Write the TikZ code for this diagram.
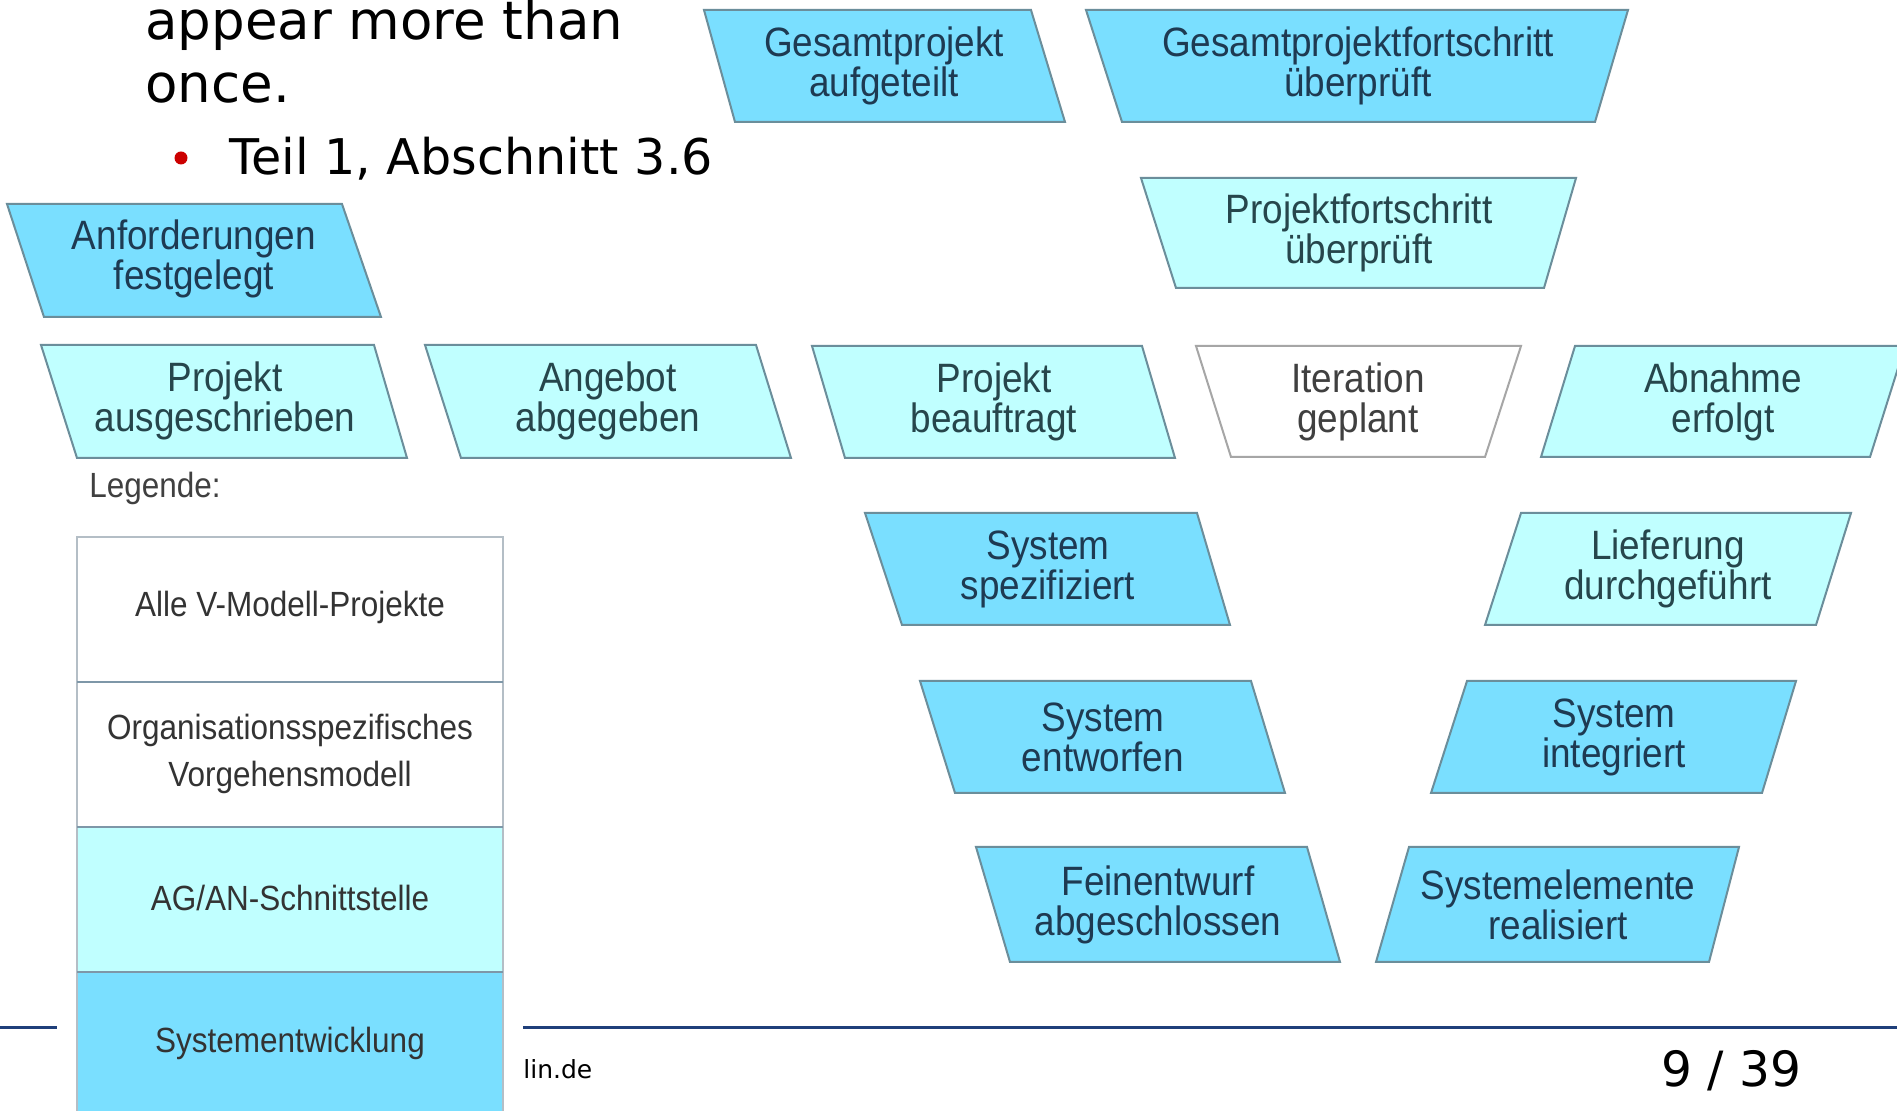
\documentclass[tikz,border=0pt]{standalone}
\usepackage{fontspec}
\setmainfont{Liberation Sans}
\newfontfamily\boxfont[FakeStretch=0.9]{Liberation Sans}
\newfontfamily\slidefont{DejaVu Sans}
\definecolor{cdark}{HTML}{7ADFFF}
\definecolor{clight}{HTML}{C0FFFF}
\definecolor{cborder}{HTML}{6B8E9B}
\definecolor{ctext}{HTML}{1E3A52}
\definecolor{ctextl}{HTML}{26464C}
\definecolor{footblue}{HTML}{1F3F7A}
\definecolor{legborder}{HTML}{B4BEC6}
\definecolor{legdiv}{HTML}{7E97A8}
\begin{document}
\begin{tikzpicture}[x=0.5pt,y=-0.5pt,
  darkbox/.style={fill=cdark,draw=cborder,line width=1pt},
  lightbox/.style={fill=clight,draw=cborder,line width=1pt},
  whitebox/.style={fill=white,draw=gray!70,line width=1pt},
  boxtext/.style={align=center,text=ctext,inner sep=0pt,font=\boxfont\fontsize{20.5}{20}\selectfont},
  lboxtext/.style={boxtext,text=ctextl},
  legtext/.style={align=center,text=black!80,inner sep=0pt,font=\boxfont\fontsize{17.5}{23.5}\selectfont},
  slidetext/.style={anchor=base west,inner sep=0pt,text=black,font=\slidefont\fontsize{26.5}{30}\selectfont}
]
\useasboundingbox (0,0) rectangle (1897,1111);
\clip (0,0) rectangle (1897,1111);
\fill[white] (0,0) rectangle (1897,1111);

% slide text
\node[slidetext] (t1) at (145,40) {appear more than};
\node[slidetext] (t2) at (145,103) {once.};
\fill[red!80!black] (181,158) circle (6.5);
\node[slidetext,font=\slidefont\fontsize{24.6}{28}\selectfont] (t3) at (229,175) {Teil 1, Abschnitt 3.6};

% footer
\draw[footblue,line width=1.5pt] (0,1028) -- (57,1028);
\draw[footblue,line width=1.5pt] (523,1028) -- (1897,1028);
\node[anchor=base west,inner sep=0pt,font=\slidefont\fontsize{12.5}{14}\selectfont] (url) at (523,1079) {lin.de};
\node[anchor=base west,inner sep=0pt,font=\slidefont\fontsize{24.3}{28}\selectfont] (pg) at (1661,1087) {9 / 39};

% top row
\draw[darkbox] (704,10) -- (1031,10) -- (1065,122) -- (735,122) -- cycle;
\node[boxtext] (gpa) at (884,66) {Gesamtprojekt\\aufgeteilt};
\draw[darkbox] (1086,10) -- (1628,10) -- (1595,122) -- (1122,122) -- cycle;
\node[boxtext] (gpf) at (1358,66) {Gesamtprojektfortschritt\\überprüft};
\draw[lightbox] (1141,178) -- (1576,178) -- (1544,288) -- (1176,288) -- cycle;
\node[lboxtext] (pfu) at (1359,233) {Projektfortschritt\\überprüft};
\draw[darkbox] (7,204) -- (342,204) -- (381,317) -- (44,317) -- cycle;
\node[boxtext] (anf) at (194,259) {Anforderungen\\festgelegt};

% main row
\draw[lightbox] (41,345) -- (374,345) -- (407,458) -- (77,458) -- cycle;
\node[lboxtext] (pau) at (225,401) {Projekt\\ausgeschrieben};
\draw[lightbox] (425,345) -- (756,345) -- (791,458) -- (461,458) -- cycle;
\node[lboxtext] (aab) at (608,401) {Angebot\\abgegeben};
\draw[lightbox] (812,346) -- (1142,346) -- (1175,458) -- (845,458) -- cycle;
\node[lboxtext] (pbe) at (994,402) {Projekt\\beauftragt};
\draw[whitebox] (1196,346) -- (1521,346) -- (1485,457) -- (1231,457) -- cycle;
\node[lboxtext,text=black!75] (itg) at (1358,402) {Iteration\\geplant};
\draw[lightbox] (1575,346) -- (1905,346) -- (1870,457) -- (1541,457) -- cycle;
\node[lboxtext] (abn) at (1723,402) {Abnahme\\erfolgt};

% V rows
\draw[darkbox] (865,513) -- (1197,513) -- (1230,625) -- (902,625) -- cycle;
\node[boxtext] (ssp) at (1048,569) {System\\spezifiziert};
\draw[lightbox] (1521,513) -- (1851,513) -- (1816,625) -- (1485,625) -- cycle;
\node[lboxtext] (lie) at (1668,569) {Lieferung\\durchgeführt};
\draw[darkbox] (920,681) -- (1251,681) -- (1285,793) -- (955,793) -- cycle;
\node[boxtext] (sen) at (1103,737) {System\\entworfen};
\draw[darkbox] (1467,681) -- (1796,681) -- (1762,793) -- (1431,793) -- cycle;
\node[boxtext] (sin) at (1614,737) {System\\integriert};
\draw[darkbox] (976,847) -- (1307,847) -- (1340,962) -- (1010,962) -- cycle;
\node[boxtext] (fab) at (1158,905) {Feinentwurf\\abgeschlossen};
\draw[darkbox] (1409,847) -- (1739,847) -- (1709,962) -- (1376,962) -- cycle;
\node[boxtext] (sre) at (1558,905) {Systemelemente\\realisiert};

% legend
\node[anchor=base west,inner sep=0pt,text=black!75,font=\boxfont\fontsize{17.5}{18}\selectfont] (leg) at (89,498) {Legende:};
\fill[white] (77,537) rectangle (503,827);
\fill[clight] (77,827) rectangle (503,972);
\fill[cdark] (77,972) rectangle (503,1120);
\draw[legborder,line width=1pt] (77,1120) -- (77,537) -- (503,537) -- (503,1120);
\draw[legdiv,line width=1.2pt] (77,682) -- (503,682);
\draw[legdiv,line width=1.2pt] (77,827) -- (503,827);
\draw[legdiv,line width=1.2pt] (77,972) -- (503,972);
\node[legtext] (l1) at (290,607) {Alle V-Modell-Projekte};
\node[legtext] (l2) at (290,754) {Organisationsspezifisches\\Vorgehensmodell};
\node[legtext] (l3) at (290,898) {AG/AN-Schnittstelle};
\node[legtext] (l4) at (290,1043) {Systementwicklung};
\end{tikzpicture}
\end{document}
